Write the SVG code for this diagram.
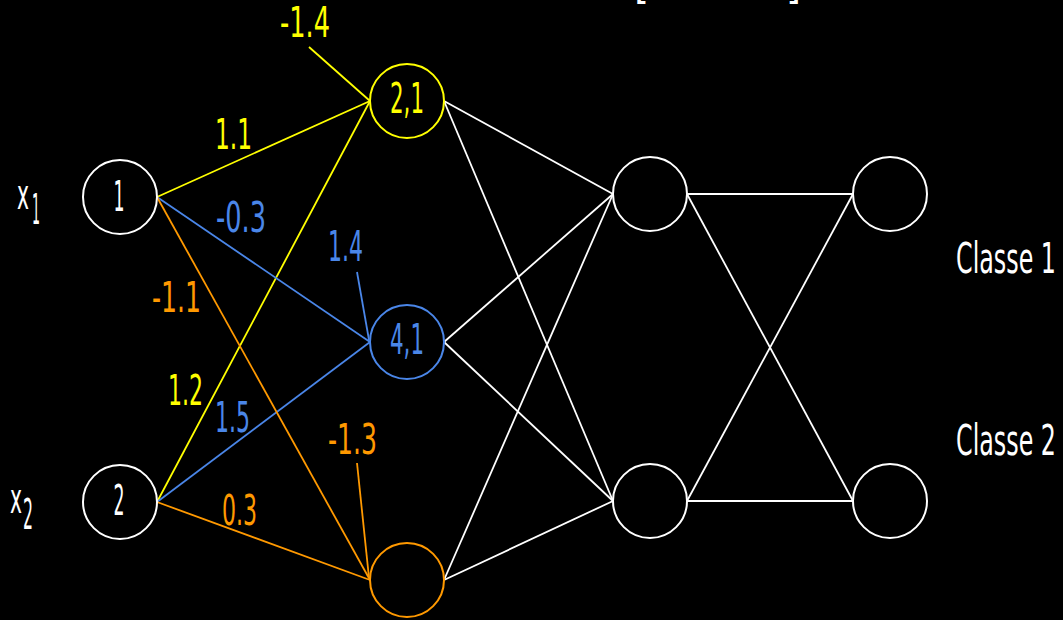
<svg xmlns="http://www.w3.org/2000/svg" width="1063" height="620" viewBox="0 0 1063 620">
<style>
text{font-family:"DejaVu Sans","Liberation Sans",sans-serif;font-stretch:condensed;font-size:43px;}
.w{fill:#fff}.y{fill:#ffff00}.b{fill:#4a86e8}.o{fill:#ff9900}
circle{fill:#000;stroke-width:2}
.cw{stroke:#fff}.cy{stroke:#ffff00}.cb{stroke:#4a86e8}.co{stroke:#ff9900}
#connectors line{stroke-width:1.8}
</style>
<rect width="1063" height="620" fill="#000"/>
<text class="w" x="634" y="-1" font-size="40">[</text>
<text class="w" x="786" y="-1" font-size="40">]</text>
<g id="connectors">
<g stroke="#ffff00">
<line x1="157" y1="197" x2="370" y2="101"/>
<line x1="157" y1="502" x2="370" y2="101"/>
<line x1="309" y1="47" x2="370" y2="101"/>
</g>
<g stroke="#4a86e8">
<line x1="157" y1="197" x2="370" y2="342"/>
<line x1="157" y1="502" x2="370" y2="342"/>
<line x1="357" y1="272" x2="369" y2="340"/>
</g>
<g stroke="#ff9900">
<line x1="157" y1="197" x2="370" y2="580"/>
<line x1="157" y1="502" x2="370" y2="580"/>
<line x1="357" y1="463" x2="369" y2="578"/>
</g>
<g stroke="#fff">
<line x1="444" y1="101" x2="613" y2="194"/>
<line x1="444" y1="101" x2="613" y2="501"/>
<line x1="444" y1="342" x2="613" y2="194"/>
<line x1="444" y1="342" x2="613" y2="501"/>
<line x1="444" y1="580" x2="613" y2="194"/>
<line x1="444" y1="580" x2="613" y2="501"/>
<line x1="687" y1="194" x2="853" y2="194"/>
<line x1="687" y1="194" x2="853" y2="501"/>
<line x1="687" y1="501" x2="853" y2="194"/>
<line x1="687" y1="501" x2="853" y2="501"/>
</g>
</g>
<g id="in1"><circle class="cw" cx="120" cy="197" r="37"/><text class="w" x="119" y="211" text-anchor="middle" textLength="11" lengthAdjust="spacingAndGlyphs">1</text></g>
<g id="in2"><circle class="cw" cx="120" cy="502" r="37"/><text class="w" x="119" y="515" text-anchor="middle" textLength="11" lengthAdjust="spacingAndGlyphs">2</text></g>
<g id="h21"><circle class="cy" cx="407" cy="101" r="37"/><text class="y" x="390" y="113" font-size="38" textLength="34" lengthAdjust="spacingAndGlyphs">2,1</text></g>
<g id="h41"><circle class="cb" cx="407" cy="342" r="37"/><text class="b" x="390" y="354" font-size="38" textLength="34" lengthAdjust="spacingAndGlyphs">4,1</text></g>
<g id="h3"><circle class="co" cx="407" cy="580" r="37"/></g>
<g id="m1"><circle class="cw" cx="650" cy="194" r="37"/></g>
<g id="m2"><circle class="cw" cx="650" cy="501" r="37"/></g>
<g id="o1"><circle class="cw" cx="890" cy="194" r="37"/></g>
<g id="o2"><circle class="cw" cx="890" cy="501" r="37"/></g>
<g id="labels">
<text class="y" x="280" y="37" textLength="50" lengthAdjust="spacingAndGlyphs">-1.4</text>
<text class="y" x="215" y="149" textLength="37" lengthAdjust="spacingAndGlyphs">1.1</text>
<text class="b" x="216" y="232" textLength="50" lengthAdjust="spacingAndGlyphs">-0.3</text>
<text class="b" x="328" y="261" textLength="35" lengthAdjust="spacingAndGlyphs">1.4</text>
<text class="o" x="152" y="312" textLength="49" lengthAdjust="spacingAndGlyphs">-1.1</text>
<text class="y" x="168" y="405" textLength="35" lengthAdjust="spacingAndGlyphs">1.2</text>
<text class="b" x="215" y="432" textLength="35" lengthAdjust="spacingAndGlyphs">1.5</text>
<text class="o" x="328" y="454" textLength="49" lengthAdjust="spacingAndGlyphs">-1.3</text>
<text class="o" x="222" y="525" textLength="35" lengthAdjust="spacingAndGlyphs">0.3</text>
<text class="w" x="17" y="209" font-size="52" textLength="12" lengthAdjust="spacingAndGlyphs">x</text>
<text class="w" x="32" y="224" font-size="27" textLength="8" lengthAdjust="spacingAndGlyphs">1</text>
<text class="w" x="10" y="513" font-size="52" textLength="12" lengthAdjust="spacingAndGlyphs">x</text>
<text class="w" x="23" y="529" font-size="29" textLength="10" lengthAdjust="spacingAndGlyphs">2</text>
<text class="w" x="956" y="273" font-size="44" textLength="100" lengthAdjust="spacingAndGlyphs">Classe 1</text>
<text class="w" x="956" y="455" font-size="44" textLength="100" lengthAdjust="spacingAndGlyphs">Classe 2</text>
</g>
</svg>
